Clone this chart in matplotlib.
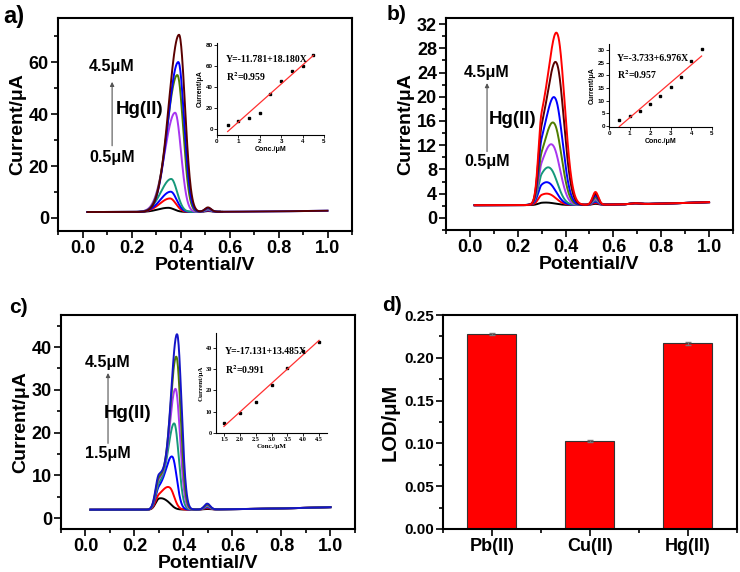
import matplotlib
matplotlib.use("Agg")
import matplotlib.pyplot as plt
import numpy as np
from matplotlib.ticker import MultipleLocator

plt.rcParams["font.family"] = ["Liberation Sans", "DejaVu Sans"]
plt.rcParams["font.weight"] = "bold"
plt.rcParams["mathtext.fontset"] = "stix"

TEAL = "#16987a"
VIOLET = "#a836f0"
OLIVE = "#4f7d00"
MAROON = "#5a0000"
NAVY = "#1414c8"

# ---- panel a: voltammograms (peak heights read above baseline) ----
A_COLORS = ["black", "red", "blue", TEAL, VIOLET, OLIVE, "blue", MAROON]
A_MAIN = [1.6, 5.2, 7.8, 12.7, 38.2, 52.7, 57.7, 68.2]
A_MAIN_POS = [0.350, 0.357, 0.360, 0.362, 0.378, 0.387, 0.391, 0.394]
A_BUMP = [0.3, 0.5, 0.6, 0.8, 1.0, 1.3, 1.5, 1.7]
A_END = [0.56, 0.56, 0.56, 0.56, 0.56, 0.57, 1.0, 1.0]

# ---- panel b ----
B_COLORS = ["black", "red", "blue", TEAL, VIOLET, OLIVE, "blue", MAROON, "red"]
B_SHOULDER = [0.25, 1.1, 2.2, 3.2, 4.5, 6.0, 8.0, 10.0, 12.0]
B_MAIN = [0.2, 1.0, 2.0, 3.9, 7.5, 10.8, 14.5, 20.2, 24.8]
B_MAIN_POS = [0.330, 0.335, 0.335, 0.340, 0.350, 0.356, 0.360, 0.365, 0.368]
B_BUMP = [0.15, 0.3, 0.5, 0.7, 0.9, 1.2, 1.5, 1.8, 2.1]

# ---- panel c ----
C_COLORS = ["black", "red", "blue", TEAL, VIOLET, OLIVE, NAVY]
C_SHOULDER = [2.3, 2.8, 4.5, 5.5, 6.5, 7.0, 7.8]
C_MAIN = [0.8, 4.2, 11.5, 19.5, 27.7, 35.3, 40.6]
C_MAIN_POS = [0.335, 0.345, 0.355, 0.363, 0.368, 0.371, 0.374]
C_BUMP = [0.1, 0.3, 0.5, 0.7, 0.9, 1.1, 1.35]

# ---- insets: calibration points and printed fits ----
A_CONC = [0.5, 1.0, 1.5, 2.0, 2.5, 3.0, 3.5, 4.0, 4.5]
A_PEAK = [4.0, 7.5, 10.5, 15.0, 33.5, 46.0, 55.5, 60.0, 70.5]
A_FIT = (-11.781, 18.180)
B_CONC = [0.5, 1.0, 1.5, 2.0, 2.5, 3.0, 3.5, 4.0, 4.5]
B_PEAK = [2.5, 4.0, 6.0, 8.5, 12.0, 15.5, 19.5, 25.5, 30.3]
B_FIT = (-3.733, 6.976)
C_CONC = [1.5, 2.0, 2.5, 3.0, 3.5, 4.0, 4.5]
C_PEAK = [4.5, 9.5, 14.5, 22.5, 30.5, 38.5, 43.0]
C_FIT = (-17.131, 13.485)

# ---- panel d: detection limits ----
IONS = ["Pb(II)", "Cu(II)", "Hg(II)"]
LOD = [0.228, 0.103, 0.217]
LOD_ERR = [0.0012, 0.0010, 0.0015]


def peak(x, amp, center, sl, sr):
    s = np.where(x < center, sl, sr)
    return amp * np.exp(-0.5 * ((x - center) / s) ** 2)


def style_main(ax, xlim, ylim, ymaj, ymin_):
    ax.set_xlim(*xlim)
    ax.set_ylim(*ylim)
    for sp in ax.spines.values():
        sp.set_linewidth(1.5)
    ax.tick_params(which="both", direction="out", top=False, right=False, width=1.2)
    ax.tick_params(which="major", length=5, labelsize=13, pad=1.5)
    ax.tick_params(which="minor", length=3)
    ax.yaxis.set_major_locator(MultipleLocator(ymaj))
    ax.yaxis.set_minor_locator(MultipleLocator(ymin_))
    for lab in ax.get_xticklabels() + ax.get_yticklabels():
        lab.set_fontweight("bold")


def style_volt(ax, xlim, ylim, ymaj, ymin_):
    style_main(ax, xlim, ylim, ymaj, ymin_)
    ax.xaxis.set_minor_locator(MultipleLocator(0.1))
    ax.set_xticks([0.0, 0.2, 0.4, 0.6, 0.8, 1.0])
    ax.set_xticklabels(["0.0", "0.2", "0.4", "0.6", "0.8", "1.0"], fontweight="bold")
    ax.set_xlabel("Potential/V", fontsize=14, fontweight="bold", labelpad=0)
    ax.set_ylabel("Current/μA", fontsize=14, fontweight="bold", labelpad=2)


def annotate(ax, hi, lo, fx, fy_hi, fy_lo, fy_tail, fy_head, hgx, hgy):
    ax.text(fx, fy_hi, hi, transform=ax.transAxes, ha="center", va="center",
            fontsize=11.5, fontweight="bold")
    ax.text(fx, fy_lo, lo, transform=ax.transAxes, ha="center", va="center",
            fontsize=11.5, fontweight="bold")
    ax.annotate("", xy=(fx, fy_head), xytext=(fx, fy_tail), xycoords="axes fraction",
                arrowprops=dict(arrowstyle="-|>", color="#555555", lw=0.8,
                                mutation_scale=6, shrinkA=0, shrinkB=0))
    ax.text(hgx, hgy, "Hg(II)", transform=ax.transAxes, ha="center", va="center",
            fontsize=13.5, fontweight="bold")


def inset(fig, rect, conc, vals, fit, xlim, ylim, xticks, yticks, eq, r2, serif=False):
    ax = fig.add_axes(rect)
    fam = ["Liberation Serif"] if serif else ["Liberation Sans"]
    ax.plot(conc, vals, "s", color="black", markersize=1.8)
    xs = np.array([conc[0], conc[-1]])
    ax.plot(xs, fit[0] + fit[1] * xs, color="#ff3030", lw=0.9)
    ax.set_xlim(*xlim)
    ax.set_ylim(*ylim)
    ax.spines["top"].set_visible(False)
    ax.spines["right"].set_visible(False)
    for sp in ("left", "bottom"):
        ax.spines[sp].set_linewidth(0.8)
    ax.set_xticks(xticks)
    ax.set_yticks(yticks)
    ax.tick_params(direction="out", length=2, width=0.6, labelsize=4.5, pad=1)
    for lab in ax.get_xticklabels() + ax.get_yticklabels():
        lab.set_family(fam)
        lab.set_fontweight("bold")
    ax.set_xlabel("Conc./μM", fontsize=5, fontweight="bold", family=fam, labelpad=1.5)
    ax.set_ylabel("Current/μA", fontsize=5, fontweight="bold", family=fam, labelpad=1.5)
    ax.patch.set_alpha(0)
    ax.text(0.08, 0.82, eq, transform=ax.transAxes, fontsize=7, fontweight="bold",
            family=["Liberation Serif"], va="center")
    ax.text(0.08, 0.63, r"R$^\mathbf{2}$=" + r2, transform=ax.transAxes, fontsize=7,
            fontweight="bold", family=["Liberation Serif"], va="center")
    return ax


fig = plt.figure(figsize=(7.4, 5.72), dpi=100)

# ---------------- a ----------------
ax_a = fig.add_axes([0.0784, 0.5962, 0.3973, 0.3724])
for i in range(len(A_COLORS)):
    x = np.linspace(0.02, A_END[i], 600)
    y = (2.3 + 0.5 * x ** 3 + peak(x, A_MAIN[i], A_MAIN_POS[i], 0.042, 0.024)
         + peak(x, A_BUMP[i], 0.512, 0.013, 0.013))
    ax_a.plot(x, y, color=A_COLORS[i], lw=1.4)
style_volt(ax_a, (-0.1, 1.1), (-5, 77), 20, 10)
annotate(ax_a, "4.5μM", "0.5μM", 0.184, 0.770, 0.345, 0.40, 0.70, 0.279, 0.568)
inset(fig, [0.2932, 0.764, 0.1446, 0.1608], A_CONC, A_PEAK, A_FIT, (0, 5), (-6, 82),
      [0, 1, 2, 3, 4, 5], [0, 20, 40, 60, 80], "Y=-11.781+18.180X", "0.959")

# ---------------- b ----------------
ax_b = fig.add_axes([0.6027, 0.5979, 0.3878, 0.3706])
for i in range(len(B_COLORS)):
    x = np.linspace(0.02, 1.0, 700)
    y = (2.1 + 0.5 * x ** 3 + peak(x, B_SHOULDER[i], 0.300, 0.014, 0.042)
         + peak(x, B_MAIN[i], B_MAIN_POS[i], 0.034, 0.03)
         + peak(x, B_BUMP[i], 0.525, 0.012, 0.012)
         + peak(x, 0.15, 0.69, 0.02, 0.02))
    ax_b.plot(x, y, color=B_COLORS[i], lw=1.4)
style_volt(ax_b, (-0.1, 1.1), (-2, 33), 4, 2)
annotate(ax_b, "4.5μM", "0.5μM", 0.143, 0.745, 0.321, 0.37, 0.693, 0.233, 0.519)
inset(fig, [0.823, 0.778, 0.139, 0.145], B_CONC, B_PEAK, B_FIT, (0, 5), (-0.4, 32.4),
      [0, 1, 2, 3, 4, 5], [0, 5, 10, 15, 20, 25, 30], "Y=-3.733+6.976X", "0.957")

# ---------------- c ----------------
ax_c = fig.add_axes([0.0824, 0.0752, 0.3973, 0.3741])
for i in range(len(C_COLORS)):
    x = np.linspace(0.02, 1.0, 700)
    y = (2.0 + 0.6 * x ** 3 + peak(x, C_SHOULDER[i], 0.30, 0.014, 0.03)
         + peak(x, C_MAIN[i], C_MAIN_POS[i], 0.025, 0.018)
         + peak(x, C_BUMP[i], 0.497, 0.012, 0.012))
    ax_c.plot(x, y, color=C_COLORS[i], lw=1.4)
style_volt(ax_c, (-0.1, 1.1), (-2.5, 47.5), 10, 5)
annotate(ax_c, "4.5μM", "1.5μM", 0.160, 0.780, 0.355, 0.40, 0.729, 0.228, 0.542)
inset(fig, [0.2919, 0.2430, 0.15, 0.1748], C_CONC, C_PEAK, C_FIT, (1.25, 4.75), (0, 47),
      [1.5, 2.0, 2.5, 3.0, 3.5, 4.0, 4.5], [0, 10, 20, 30, 40], "Y=-17.131+13.485X",
      "0.991", serif=True)

# ---------------- d ----------------
ax_d = fig.add_axes([0.5986, 0.0752, 0.3973, 0.3741])
pos = np.arange(1, len(IONS) + 1)
ax_d.bar(pos, LOD, width=0.5, color="#ff0000", edgecolor="#333333", linewidth=0.8,
         yerr=LOD_ERR, error_kw=dict(ecolor="#777777", elinewidth=0.8, capsize=2))
style_main(ax_d, (0.5, 3.5), (0, 0.25), 0.05, 0.025)
ax_d.set_xticks(pos)
ax_d.set_xticklabels(IONS, fontsize=13, fontweight="bold")
ax_d.xaxis.set_minor_locator(MultipleLocator(0.5))
ax_d.tick_params(axis="y", labelsize=11)
ax_d.set_yticks([0.0, 0.05, 0.10, 0.15, 0.20, 0.25])
ax_d.set_yticklabels(["0.00", "0.05", "0.10", "0.15", "0.20", "0.25"], fontweight="bold")
ax_d.set_ylabel("LOD/μM", fontsize=14.5, fontweight="bold", labelpad=3)

# panel letters
fig.text(0.004, 0.972, "a)", fontsize=17, fontweight="bold", va="center")
fig.text(0.522, 0.974, "b)", fontsize=15, fontweight="bold", va="center")
fig.text(0.012, 0.463, "c)", fontsize=15, fontweight="bold", va="center")
fig.text(0.516, 0.466, "d)", fontsize=15, fontweight="bold", va="center")

fig.savefig("out.png", dpi=100)
